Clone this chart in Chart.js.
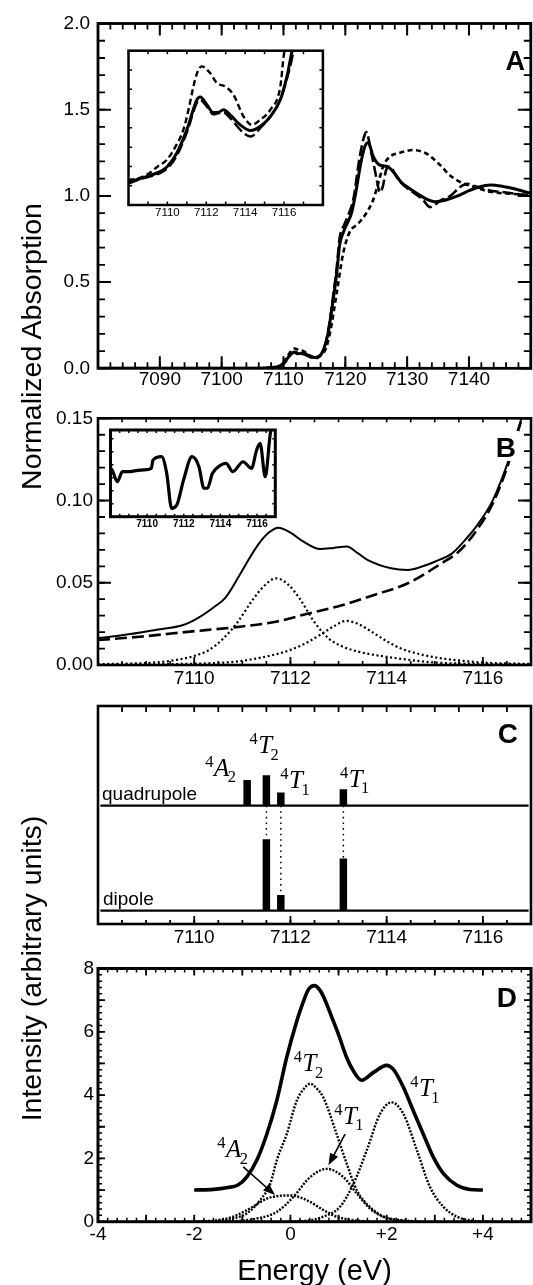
<!DOCTYPE html>
<html><head><meta charset="utf-8">
<script src="https://cdn.jsdelivr.net/npm/chart.js@4.4.1/dist/chart.umd.min.js"></script>
<style>
html,body{margin:0;padding:0;background:#fff;}
#wrap{position:relative;width:533px;height:1285px;overflow:hidden;background:#fff;}
canvas{position:absolute;}
.yt{position:absolute;font-family:'Liberation Sans',Arial,sans-serif;font-size:28.5px;line-height:29px;height:29px;width:400px;text-align:center;white-space:nowrap;transform:rotate(-90deg);color:#000;}
</style></head><body>
<div id="wrap">
<canvas id="cA" width="533" height="400" style="left:0;top:0"></canvas>
<canvas id="cB" width="533" height="295" style="left:0;top:400px"></canvas>
<canvas id="cC" width="533" height="260" style="left:0;top:695px"></canvas>
<canvas id="cD" width="533" height="330" style="left:0;top:955px"></canvas>
<canvas id="cAi" width="210" height="180" style="left:120px;top:45px"></canvas>
<canvas id="cBi" width="178" height="110" style="left:104px;top:424px"></canvas>
<div class="yt" style="left:-169px;top:331.5px">Normalized Absorption</div>
<div class="yt" style="left:-169px;top:953.5px">Intensity (arbitrary units)</div>
</div>
<script>
// ---------- Panel A (main) ----------
const aSolidE = [7080,7090,7100,7106,7108,7109.5,7110.5,7111.2,7111.8,7112.5,7113.2,7114,7115,7115.8,7116.5,7117.2,7118,7118.6,7119.1,7119.7,7120.3,7121,7121.7,7122.4,7123.1,7123.7,7124.5,7125.5,7126.8,7128,7129,7130.5,7132,7133.5,7134.5,7135.5,7137,7138.5,7140,7141.5,7143.5,7145.5,7147.5,7149,7150];
const aSolidV = [0,0,0,0,0.005,0.015,0.05,0.085,0.095,0.085,0.088,0.075,0.062,0.07,0.11,0.2,0.39,0.55,0.72,0.79,0.84,0.9,1.02,1.17,1.28,1.31,1.23,1.18,1.17,1.13,1.08,1.04,1.005,0.975,0.966,0.97,0.985,1.005,1.03,1.05,1.063,1.055,1.04,1.025,1.015];
const aLongE = [7080,7100,7106,7108,7109.5,7110.5,7111.2,7111.8,7112.5,7113.2,7114,7115,7115.8,7116.5,7117.2,7118,7118.6,7119.1,7119.8,7120.5,7121.3,7122.3,7123,7123.4,7124.2,7125,7125.6,7126.1,7126.6,7127.2,7128.3,7129.5,7131,7132.5,7133.7,7134.5,7135.5,7137,7138.5,7139.7,7141.5,7143.5,7146,7150];
const aLongV = [0,0,0,0.005,0.012,0.045,0.08,0.09,0.08,0.082,0.07,0.058,0.068,0.11,0.21,0.41,0.58,0.76,0.83,0.89,0.98,1.22,1.34,1.37,1.25,1.11,1.02,1.06,1.15,1.17,1.11,1.06,1.02,0.98,0.935,0.95,0.975,1.0,1.05,1.07,1.05,1.03,1.02,1.0];
const aShortE = [7080,7100,7106,7108,7109.5,7110.5,7111.2,7111.8,7112.5,7113.2,7114,7115,7116,7116.8,7117.5,7118.6,7119.65,7120.7,7122.1,7123.4,7124.5,7125.3,7126.1,7127.2,7128.8,7131,7133.1,7135.3,7136.9,7138.5,7140.7,7143.4,7146.1,7150];
const aShortV = [0,0,0,0.005,0.018,0.06,0.1,0.115,0.105,0.1,0.08,0.065,0.075,0.11,0.2,0.435,0.667,0.79,0.84,0.9,0.976,1.07,1.17,1.227,1.25,1.266,1.246,1.18,1.12,1.082,1.053,1.024,1.014,1.005];

// ---------- Panel A (inset) ----------
const iaSolidE = [7108,7108.5,7109,7109.62,7110,7110.48,7111,7111.52,7111.69,7112.03,7112.37,7112.6,7112.89,7113.23,7113.75,7114.27,7114.77,7115.29,7115.81,7116.15,7116.41,7116.6];
const iaSolidV = [0.024,0.0267,0.03,0.0346,0.04,0.0537,0.0779,0.1091,0.1119,0.1039,0.0959,0.096,0.0987,0.0935,0.0831,0.0772,0.0813,0.0917,0.1091,0.1333,0.1593,0.175];
const iaShortE = [7108,7108.5,7109,7109.5,7109.97,7110.4,7110.82,7111.1,7111.34,7111.55,7111.77,7112.2,7112.55,7112.97,7113.4,7113.92,7114.35,7114.77,7115.29,7115.81,7115.98,7116.1];
const iaShortV = [0.026,0.0277,0.032,0.04,0.0468,0.06,0.0779,0.1,0.1229,0.138,0.1437,0.1368,0.1264,0.1229,0.1143,0.0917,0.0831,0.0883,0.0987,0.1229,0.1541,0.17];
const iaLongE = [7108,7108.5,7109,7109.62,7110,7110.48,7111,7111.52,7111.69,7112.03,7112.37,7112.6,7112.89,7113.23,7113.75,7113.92,7114.27,7114.77,7115.64,7115.98,7116.32,7116.49,7116.7];
const iaLongV = [0.022,0.026,0.029,0.033,0.038,0.051,0.075,0.106,0.109,0.102,0.094,0.095,0.096,0.09,0.078,0.0745,0.071,0.0797,0.1021,0.1195,0.1437,0.1593,0.175];

// ---------- Panel B ----------
const bE = [7108,7108.53,7109.22,7109.77,7110.1,7110.4,7110.65,7110.95,7111.3,7111.55,7111.75,7112,7112.27,7112.62,7112.9,7113.17,7113.4,7113.6,7114.09,7114.44,7114.75,7115,7115.36,7115.6,7115.86,7116.21,7116.56,7116.77,7116.95];
const bData = [0.0162,0.0182,0.0215,0.0243,0.029,0.035,0.041,0.055,0.072,0.0805,0.0835,0.0805,0.075,0.0705,0.0712,0.072,0.068,0.0639,0.0588,0.0578,0.06,0.0628,0.0679,0.075,0.0841,0.1004,0.1267,0.147,0.162];
const bBaseE = [7108,7108.87,7109.91,7110.95,7111.7,7112.33,7113.03,7113.74,7114.44,7115.15,7115.5,7115.86,7116.21,7116.56,7116.77,7116.95];
const bBaseV = [0.0152,0.0172,0.0203,0.0233,0.0263,0.031,0.036,0.0426,0.0497,0.062,0.069,0.0815,0.0985,0.125,0.146,0.162];
const bPeak1E = [7108,7108.5,7109,7109.5,7110,7110.3,7110.6,7110.9,7111.2,7111.45,7111.7,7111.95,7112.2,7112.5,7112.8,7113.1,7113.5,7114,7114.5,7115,7116,7117];
const bPeak1V = [0.0005,0.0008,0.0012,0.0025,0.0055,0.009,0.016,0.026,0.039,0.048,0.0527,0.049,0.04,0.026,0.016,0.011,0.0075,0.005,0.003,0.0015,0.0007,0.0004];
const bPeak2E = [7108,7109,7110,7110.6,7111,7111.3,7111.7,7112,7112.3,7112.6,7112.9,7113.15,7113.4,7113.7,7114,7114.3,7114.7,7115.1,7115.5,7116,7117];
const bPeak2V = [0.0002,0.0004,0.0008,0.0014,0.0025,0.004,0.0065,0.0092,0.013,0.018,0.0235,0.0268,0.025,0.02,0.0145,0.01,0.0065,0.0042,0.0028,0.0015,0.0006];

// ---------- Panel B (inset) ----------
const ibE = [7108,7108.09,7108.37,7108.65,7109,7109.39,7109.8,7110.23,7110.32,7110.79,7111.07,7111.34,7111.62,7111.99,7112.45,7112.83,7113.1,7113.29,7113.57,7114.03,7114.31,7114.68,7115.24,7115.7,7115.98,7116.17,7116.45,7116.73,7116.9];
const ibV = [5.6,5.39,4.04,5.19,5.2,5.31,5.4,5.58,6.54,6.92,5.0,0.97,1.35,4.23,6.92,5.77,3.28,3.28,5.0,5.96,6.16,5.19,6.34,5.58,7.69,8.47,4.61,9.62,11];

// ---------- Panel C ----------
const cStates = ['A','T','T','T'];
const cStateSub = ['2','2','1','1'];
const cEnergy = [7111.10, 7111.50, 7111.80, 7113.10];
const cQuad = [1.18, 1.39, 0.60, 0.75];
const cDipole = [0, 3.28, 0.72, 2.40];
const cQuadBase = 4.82;

// ---------- Panel D ----------
const dE = [-2,-1.6,-1.3,-1.1,-0.91,-0.7,-0.49,-0.285,-0.08,0.13,0.27,0.38,0.5,0.62,0.72,0.85,1,1.17,1.31,1.48,1.72,2,2.14,2.35,2.555,2.76,2.97,3.18,3.46,3.73,4];
const dTotal = [1,1.02,1.08,1.15,1.41,1.94,2.77,3.82,5.18,6.33,6.96,7.35,7.46,7.3,7.0,6.5,5.91,5.18,4.76,4.47,4.71,4.94,4.81,4.24,3.5,2.77,2.04,1.52,1.15,1.02,1];
const dT2E = [-1.5,-1.19,-0.91,-0.63,-0.42,-0.285,-0.077,0.13,0.28,0.41,0.55,0.685,0.96,1.17,1.38,1.65,1.93,2.21,2.6];
const dT2V = [0.03,0.1,0.26,0.68,1.2,1.94,2.77,3.82,4.2,4.36,4.2,3.92,2.77,1.83,0.99,0.47,0.16,0.05,0.0];
const dT1E = [0.0,0.34,0.685,1.03,1.31,1.585,1.86,2.1,2.35,2.63,2.9,3.18,3.46,3.8,4.2];
const dT1V = [0.0,0.03,0.16,0.47,1.2,2.25,3.4,3.77,3.4,2.25,1.1,0.47,0.16,0.03,0.0];
const dT1mE = [-1.5,-1.1,-0.7,-0.285,0.06,0.41,0.755,1.1,1.38,1.65,1.93,2.3,2.7];
const dT1mV = [0.0,0.02,0.1,0.31,0.78,1.41,1.67,1.41,0.89,0.42,0.16,0.05,0.0];
const dA2E = [-2.0,-1.5,-1.19,-0.84,-0.49,-0.2,0.0,0.34,0.685,0.96,1.3,1.7];
const dA2V = [0.0,0.05,0.16,0.42,0.73,0.82,0.83,0.68,0.37,0.16,0.05,0.0];
const dArrows = [[-0.98,1.73,-0.32,0.84],[1.135,2.77,0.79,1.78]];

// ---------- helpers ----------
const FONT = "'Liberation Sans', Arial, Helvetica, sans-serif";
const SERIF = "'Liberation Serif', 'Times New Roman', serif";
Chart.defaults.font.family = FONT;
Chart.defaults.color = '#000';

const pts = (E, V) => E.map((e, i) => ({x: e, y: V[i]}));
function line(E, V, opt) {
  return Object.assign({data: pts(E, V), borderColor: '#000', borderWidth: 2, pointRadius: 0,
    fill: false, cubicInterpolationMode: 'monotone', borderCapStyle: 'butt', borderJoinStyle: 'round'}, opt || {});
}

function drawState(ctx, px, py, s, size) {
  const small = size * 0.66;
  ctx.textAlign = 'left'; ctx.textBaseline = 'alphabetic';
  ctx.font = small + 'px ' + SERIF;
  const w4 = ctx.measureText(s.sup).width;
  ctx.fillText(s.sup, px - w4 - 0.5, py - size * 0.36);
  ctx.font = 'italic ' + size + 'px ' + SERIF;
  const wm = ctx.measureText(s.main).width;
  ctx.fillText(s.main, px, py);
  ctx.font = small + 'px ' + SERIF;
  ctx.fillText(s.sub, px + wm - size * 0.06, py + size * 0.26);
}

const framePlugin = {
  id: 'frame',
  beforeDatasetsDraw(chart, args, o) {
    if (o && o.bg) {
      const a = chart.chartArea, c = chart.ctx;
      c.save(); c.fillStyle = '#fff'; c.fillRect(a.left, a.top, a.right - a.left, a.bottom - a.top); c.restore();
    }
  },
  afterDatasetsDraw(chart, args, o) {
    if (!o || !o.lw) return;
    const ctx = chart.ctx, a = chart.chartArea;
    ctx.save();
    ctx.strokeStyle = '#000'; ctx.lineCap = 'butt';
    (o.ticks || []).forEach(t => {
      const sc = chart.scales[t.axis];
      const n0 = Math.ceil(sc.min / t.step - 1e-6), n1 = Math.floor(sc.max / t.step + 1e-6);
      ctx.lineWidth = t.w || 1.6;
      ctx.beginPath();
      for (let n = n0; n <= n1; n++) {
        const p = sc.getPixelForValue(n * t.step);
        t.sides.forEach(s => {
          if (s === 'bottom') { ctx.moveTo(p, a.bottom); ctx.lineTo(p, a.bottom - t.len); }
          if (s === 'top') { ctx.moveTo(p, a.top); ctx.lineTo(p, a.top + t.len); }
          if (s === 'left') { ctx.moveTo(a.left, p); ctx.lineTo(a.left + t.len, p); }
          if (s === 'right') { ctx.moveTo(a.right, p); ctx.lineTo(a.right - t.len, p); }
        });
      }
      ctx.stroke();
    });
    ctx.lineWidth = o.lw;
    ctx.strokeRect(a.left, a.top, a.right - a.left, a.bottom - a.top);
    ctx.restore();
  }
};

const notesPlugin = {
  id: 'notes',
  afterDatasetsDraw(chart, args, o) {
    if (!o) return;
    const ctx = chart.ctx, xs = chart.scales.x, ys = chart.scales.y;
    ctx.save(); ctx.fillStyle = '#000'; ctx.strokeStyle = '#000';
    (o.texts || []).forEach(t => {
      if (t.bg) { ctx.fillStyle = '#fff'; ctx.fillRect(t.bg[0], t.bg[1], t.bg[2], t.bg[3]); ctx.fillStyle = '#000'; }
      ctx.font = t.font; ctx.textAlign = t.align || 'left'; ctx.textBaseline = 'alphabetic';
      ctx.fillText(t.text, t.x, t.y);
    });
    (o.states || []).forEach(s => drawState(ctx, xs.getPixelForValue(s.x), ys.getPixelForValue(s.y), s, o.size || 25));
    (o.arrows || []).forEach(ar => {
      const x0 = xs.getPixelForValue(ar.x0), y0 = ys.getPixelForValue(ar.y0);
      const x1 = xs.getPixelForValue(ar.x1), y1 = ys.getPixelForValue(ar.y1);
      const dx = x1 - x0, dy = y1 - y0, L = Math.hypot(dx, dy), ux = dx / L, uy = dy / L;
      const hl = 12, hw = 4.5;
      ctx.lineWidth = 1.6;
      ctx.beginPath(); ctx.moveTo(x0, y0); ctx.lineTo(x1 - ux * hl * 0.8, y1 - uy * hl * 0.8); ctx.stroke();
      ctx.beginPath();
      ctx.moveTo(x1, y1);
      ctx.lineTo(x1 - ux * hl - uy * hw, y1 - uy * hl + ux * hw);
      ctx.lineTo(x1 - ux * hl + uy * hw, y1 - uy * hl - ux * hw);
      ctx.closePath(); ctx.fill();
    });
    ctx.restore();
  }
};
Chart.register(framePlugin, notesPlugin);

function axisX(min, max, step, cb, font, pad, h, extra) {
  return Object.assign({type: 'linear', position: 'bottom', min, max,
    ticks: {stepSize: step, autoSkip: false, maxRotation: 0, minRotation: 0, includeBounds: false,
      callback: cb, padding: pad, color: '#000', font: Object.assign({lineHeight: 1}, font)},
    grid: {display: false, drawTicks: false}, border: {display: false},
    afterFit(s) { s.height = h; }}, extra || {});
}
function axisY(min, max, step, cb, font, pad, w) {
  return {type: 'linear', position: 'left', min, max,
    ticks: {stepSize: step, autoSkip: false, includeBounds: false, callback: cb, padding: pad, color: '#000', font: Object.assign({lineHeight: 1}, font)},
    grid: {display: false, drawTicks: false}, border: {display: false},
    afterFit(s) { s.width = w; }};
}
const hiddenY = (min, max) => ({type: 'linear', display: false, min, max});
function baseOpts(padding, scales, frame, notes) {
  return {responsive: false, animation: false, devicePixelRatio: 1, events: [],
    layout: {padding},
    plugins: {legend: {display: false}, tooltip: {enabled: false}, frame: frame, notes: notes || {}},
    scales};
}
const showRange = (lo, hi) => v => (v >= lo - 1e-6 && v <= hi + 1e-6) ? String(Math.round(v)) : '';

// ---------- Chart A ----------
new Chart(document.getElementById('cA'), {
  type: 'line',
  data: {datasets: [
    line(aSolidE, aSolidV, {borderWidth: 3}),
    line(aLongE, aLongV, {borderWidth: 2.6, borderDash: [11, 4]}),
    line(aShortE, aShortV, {borderWidth: 2.6, borderDash: [5, 3.5]})
  ]},
  options: baseOpts({top: 23.5, right: 2, bottom: 0, left: 0}, {
    x: axisX(7080, 7150, 10, showRange(7090, 7140), {size: 19}, 2.2, 31.7),
    y: axisY(0, 2, 0.5, v => v.toFixed(1), {size: 19}, 8, 98)
  }, {lw: 2.8, ticks: [
    {axis: 'x', step: 2, len: 6, sides: ['bottom', 'top'], w: 1.8},
    {axis: 'x', step: 10, len: 12, sides: ['bottom', 'top'], w: 2},
    {axis: 'y', step: 0.1, len: 7, sides: ['left', 'right'], w: 1.8},
    {axis: 'y', step: 0.5, len: 13, sides: ['left', 'right'], w: 2}
  ]}, {texts: [{text: 'A', x: 525, y: 70, font: 'bold 27px ' + FONT, align: 'right'}]})
});

// ---------- Inset A ----------
new Chart(document.getElementById('cAi'), {
  type: 'line',
  data: {datasets: [
    line(iaSolidE, iaSolidV, {borderWidth: 3}),
    line(iaLongE, iaLongV, {borderWidth: 2.4, borderDash: [11, 4]}),
    line(iaShortE, iaShortV, {borderWidth: 2.4, borderDash: [6, 3.5]})
  ]},
  options: baseOpts({top: 5.7, right: 7.1, bottom: 0, left: 8.5}, {
    x: axisX(7108, 7118, 2, showRange(7110, 7116), {size: 11.5}, 2.5, 20),
    y: hiddenY(0, 0.16)
  }, {lw: 2.5, bg: true, ticks: [
    {axis: 'x', step: 1, len: 3.5, sides: ['bottom', 'top'], w: 1.5},
    {axis: 'y', step: 0.02, len: 3.5, sides: ['left', 'right'], w: 1.5}
  ]})
});

// ---------- Chart B ----------
new Chart(document.getElementById('cB'), {
  type: 'line',
  data: {datasets: [
    line(bE, bData, {borderWidth: 2}),
    line(bBaseE, bBaseV, {borderWidth: 2.6, borderDash: [12, 5]}),
    line(bPeak1E, bPeak1V, {borderWidth: 2.2, borderDash: [2, 2.6]}),
    line(bPeak2E, bPeak2V, {borderWidth: 2.2, borderDash: [2, 2.6]})
  ]},
  options: baseOpts({top: 18.3, right: 2, bottom: 0, left: 0}, {
    x: axisX(7108, 7117, 2, showRange(7110, 7116), {size: 19}, 3.8, 30),
    y: axisY(0, 0.15, 0.05, v => v.toFixed(2), {size: 19}, 5, 98)
  }, {lw: 2.6, ticks: [
    {axis: 'x', step: 0.5, len: 4, sides: ['bottom', 'top'], w: 1.6},
    {axis: 'x', step: 2, len: 8, sides: ['bottom'], w: 1.8},
    {axis: 'y', step: 0.01, len: 7, sides: ['left', 'right'], w: 1.8},
    {axis: 'y', step: 0.05, len: 13, sides: ['left', 'right'], w: 2}
  ]}, {texts: [{text: 'B', x: 516, y: 57, font: 'bold 28px ' + FONT, align: 'right', bg: [489, 31, 30, 30]}]})
});

// ---------- Inset B ----------
new Chart(document.getElementById('cBi'), {
  type: 'line',
  data: {datasets: [line(ibE, ibV, {borderWidth: 3.2})]},
  options: baseOpts({top: 6, right: 6.7, bottom: 0, left: 6.5}, {
    x: axisX(7108, 7117, 2, showRange(7110, 7116), {size: 10, weight: 'bold'}, 2.3, 17.3),
    y: hiddenY(0, 10)
  }, {lw: 3, bg: true, ticks: [
    {axis: 'x', step: 0.5, len: 3, sides: ['bottom', 'top'], w: 1.5},
    {axis: 'y', step: 1.5, len: 3, sides: ['left', 'right'], w: 1.5}
  ]})
});

// ---------- Chart C ----------
const quadSticks = [], dipSticks = [], connectors = [];
cEnergy.forEach((e, i) => {
  quadSticks.push({x: e, y: cQuadBase}, {x: e, y: cQuadBase + cQuad[i]}, {x: e, y: null});
  if (cDipole[i] > 0) {
    dipSticks.push({x: e, y: 0}, {x: e, y: cDipole[i]}, {x: e, y: null});
    connectors.push({x: e, y: cQuadBase}, {x: e, y: cDipole[i]}, {x: e, y: null});
  }
});
const stick = (data, w, dash) => ({data, borderColor: '#000', borderWidth: w, pointRadius: 0, fill: false,
  spanGaps: false, tension: 0, borderCapStyle: 'butt', borderDash: dash || []});
new Chart(document.getElementById('cC'), {
  type: 'line',
  data: {datasets: [
    stick([{x: 7108.05, y: cQuadBase}, {x: 7116.95, y: cQuadBase}], 2.2),
    stick([{x: 7108.05, y: 0}, {x: 7116.95, y: 0}], 2.2),
    stick(connectors, 1.5, [1.6, 4]),
    stick(quadSticks, 7.5),
    stick(dipSticks, 7.5)
  ]},
  options: baseOpts({top: 11, right: 2, bottom: 0, left: 98}, {
    x: axisX(7108, 7117, 2, showRange(7110, 7116), {size: 19}, 4, 31),
    y: hiddenY(-0.61, 9.39)
  }, {lw: 2.6, ticks: [
    {axis: 'x', step: 0.5, len: 6, sides: ['top'], w: 1.8},
    {axis: 'x', step: 0.5, len: 4, sides: ['bottom'], w: 1.8},
    {axis: 'x', step: 2, len: 8, sides: ['bottom'], w: 1.8}
  ]}, {
    size: 25,
    texts: [
      {text: 'C', x: 518, y: 48, font: 'bold 28px ' + FONT, align: 'right'},
      {text: 'quadrupole', x: 102, y: 105, font: '19px ' + FONT},
      {text: 'dipole', x: 103, y: 210, font: '19px ' + FONT}
    ],
    states: [
      {x: 7110.41, y: 6.18, sup: '4', main: cStates[0], sub: cStateSub[0]},
      {x: 7111.33, y: 7.22, sup: '4', main: cStates[1], sub: cStateSub[1]},
      {x: 7111.97, y: 5.61, sup: '4', main: cStates[2], sub: cStateSub[2]},
      {x: 7113.21, y: 5.69, sup: '4', main: cStates[3], sub: cStateSub[3]}
    ]
  })
});

// ---------- Chart D ----------
new Chart(document.getElementById('cD'), {
  type: 'line',
  data: {datasets: [
    line(dE, dTotal, {borderWidth: 3.6}),
    line(dT2E, dT2V, {borderWidth: 2.4, borderDash: [2, 1.5]}),
    line(dT1E, dT1V, {borderWidth: 2.4, borderDash: [2, 1.5]}),
    line(dT1mE, dT1mV, {borderWidth: 2.4, borderDash: [2, 1.5]}),
    line(dA2E, dA2V, {borderWidth: 2.4, borderDash: [2, 1.5]})
  ]},
  options: baseOpts({top: 11.7, right: 2, bottom: 0, left: 0}, {
    x: axisX(-4, 5, 2, v => Math.abs(v - 5) < 1e-6 ? '' : (v > 0 ? '+' + v : String(v)), {size: 19}, 3.8, 63.3,
      {title: {display: true, text: 'Energy (eV)', color: '#000', font: {size: 29, lineHeight: 0.92}, padding: {top: 0, bottom: 0}}}),
    y: axisY(0, 8, 2, v => String(v), {size: 19}, 4, 98)
  }, {lw: 3, ticks: [
    {axis: 'x', step: 0.2, len: 4, sides: ['bottom', 'top'], w: 1.5},
    {axis: 'x', step: 1, len: 7, sides: ['bottom', 'top'], w: 1.8},
    {axis: 'y', step: 0.2, len: 4, sides: ['left', 'right'], w: 1.5},
    {axis: 'y', step: 1, len: 7, sides: ['left', 'right'], w: 1.8}
  ]}, {
    size: 25,
    texts: [{text: 'D', x: 517, y: 52, font: 'bold 28px ' + FONT, align: 'right'}],
    states: [
      {x: 0.25, y: 4.76, sup: '4', main: 'T', sub: '2'},
      {x: 2.67, y: 3.97, sup: '4', main: 'T', sub: '1'},
      {x: 1.09, y: 3.10, sup: '4', main: 'T', sub: '1'},
      {x: -1.34, y: 2.03, sup: '4', main: 'A', sub: '2'}
    ],
    arrows: dArrows.map(a => ({x0: a[0], y0: a[1], x1: a[2], y1: a[3]}))
  })
});
</script>
</body></html>
